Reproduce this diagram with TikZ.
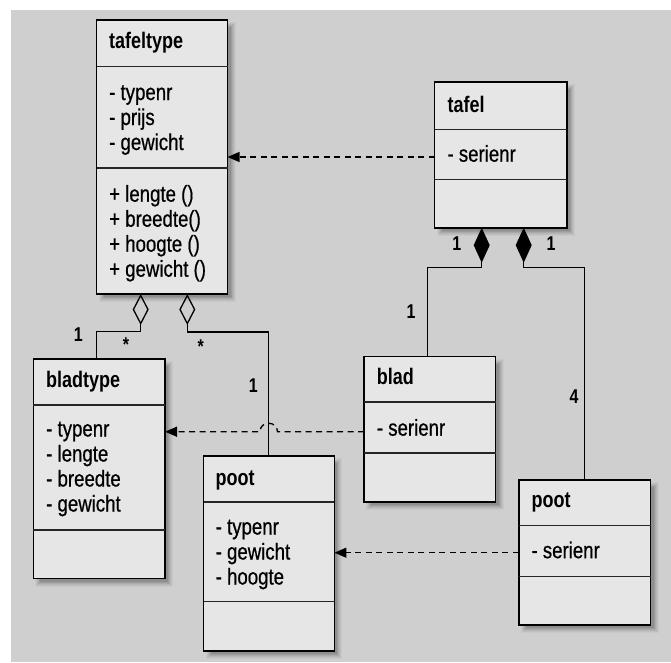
\documentclass[tikz,border=0pt]{standalone}
\usepackage{fontspec}
\setmainfont{Liberation Sans}[FakeStretch=0.81, FakeBold=0.6]
\newfontfamily\titlefont{Liberation Sans}[FakeStretch=0.8]
\usetikzlibrary{arrows.meta,calc}

\definecolor{panel}{HTML}{CFCFCF}
\definecolor{boxfill}{HTML}{E6E6E6}

\tikzset{
  classbox/.style={draw=black, line width=1.8pt, fill=boxfill, inner sep=0pt, outer sep=0pt},
  divider/.style={draw=black!85, line width=1.3pt},
  classtitle/.style={anchor=base west, inner sep=0pt, font=\titlefont\bfseries\fontsize{22.5}{25}\selectfont},
  member/.style={anchor=base west, inner sep=0pt, font=\fontsize{23}{25}\selectfont},
  mult/.style={inner sep=0pt, font=\titlefont\bfseries\fontsize{20}{22}\selectfont},
  link/.style={draw=black, line width=1.3pt},
  aggregation/.style={link, -{Diamond[open, length=31pt, width=16pt, line width=1.3pt]}},
  composition/.style={link, -{Diamond[length=35pt, width=16pt]}},
  dependency/.style={link, dash pattern=on 6pt off 4.5pt, -{Triangle[length=12pt, width=10pt]}},
}

% class box: name, left, top, right, bottom, first divider, second divider
\newcommand\umlbox[7]{%
  \foreach \r/\o in {0/0.09,1/0.07,2/0.06,3/0.05,4/0.04,5/0.03}{
    \fill[black, opacity=\o] (#2+7-\r,#3+7-\r) rectangle (#4+3+\r,#5+3+\r);
  }
  \node[classbox, anchor=north west, minimum width={#4-#2}, minimum height={#5-#3}] (#1) at (#2,#3) {};
  \draw[divider] (#2,#6) -- (#4,#6);
  \draw[divider] (#2,#7) -- (#4,#7);
}

% member lines: box name, tag, x, first baseline, list
\newcommand\members[5]{%
  \foreach \txt [count=\i] in {#5}{
    \node[member] (#1-#2\i) at (#3,{#4+25*(\i-1)}) {\txt};
  }
}

\begin{document}
\begin{tikzpicture}[x=1pt, y=-1pt]
  \useasboundingbox (0,0) rectangle (671,662);
  \fill[panel] (11,10) rectangle (671,662);

  % classes
  \umlbox{tafeltype}{96.5}{20.3}{227.5}{294}{66.2}{168}
  \node[classtitle] (tafeltype-name) at (109,48.5) {tafeltype};
  \members{tafeltype}{attr}{109}{100}{- typenr, - prijs, - gewicht}
  \members{tafeltype}{op}{109}{201.7}{+ lengte (), + breedte(), + hoogte (), + gewicht ()}

  \umlbox{tafel}{434.5}{82.3}{566.7}{227.7}{129.3}{179.3}
  \node[classtitle] (tafel-name) at (447.3,112) {tafel};
  \members{tafel}{attr}{447.3}{161.7}{- serienr}

  \umlbox{bladtype}{33.4}{359}{165}{578.5}{405}{530}
  \node[classtitle] (bladtype-name) at (46,387.5) {bladtype};
  \members{bladtype}{attr}{46}{436.5}{- typenr, - lengte, - breedte, - gewicht}

  \umlbox{pootA}{203.5}{456}{334.4}{651}{502}{601.3}
  \node[classtitle] (pootA-name) at (215.5,485) {poot};
  \members{pootA}{attr}{215.5}{534.5}{- typenr, - gewicht, - hoogte}

  \umlbox{blad}{364}{356.5}{495.5}{502}{402}{453}
  \node[classtitle] (blad-name) at (376.7,384.6) {blad};
  \members{blad}{attr}{376.7}{435.7}{- serienr}

  \umlbox{pootB}{518.6}{479.7}{650.5}{625.3}{525.7}{576.4}
  \node[classtitle] (pootB-name) at (531.3,507.8) {poot};
  \members{pootB}{attr}{531.3}{558.2}{- serienr}

  % aggregations to tafeltype
  \draw[aggregation] (96.3,0 |- bladtype.north) |- (140.7,331.7) -- (140.7,0 |- tafeltype.south);
  \draw[aggregation] (268.7,0 |- pootA.north) |- (187.3,332) -- (187.3,0 |- tafeltype.south);

  % compositions to tafel
  \draw[composition] (427.4,0 |- blad.north) |- (481.7,267.7) -- (481.7,0 |- tafel.south);
  \draw[composition] (584.6,0 |- pootB.north) |- (523.7,267.7) -- (523.7,0 |- tafel.south);

  % dependencies
  \draw[dependency] (tafel.west |- 0,157) -- (tafeltype.east |- 0,157);
  \draw[dependency] (blad.west |- 0,431.7) -- (277.5,431.7)
      .. controls (277.5,420.5) and (260,420.5) .. (260,431.7)
      -- (bladtype.east |- 0,431.7);
  \draw[dependency] (pootB.west |- 0,552.7) -- (pootA.east |- 0,552.7);

  % multiplicities
  \node[mult] (m-bladtype) at (78.3,335) {1};
  \node[mult, anchor=base] (m-bladtype-star) at (126,351) {*};
  \node[mult, anchor=base] (m-pootA-star) at (200.7,353) {*};
  \node[mult] (m-pootA) at (253.3,385.7) {1};
  \node[mult] (m-blad) at (411,312) {1};
  \node[mult] (m-tafel-blad) at (456.7,244) {1};
  \node[mult] (m-tafel-poot) at (551,244) {1};
  \node[mult] (m-pootB) at (574,396.7) {4};
\end{tikzpicture}
\end{document}
